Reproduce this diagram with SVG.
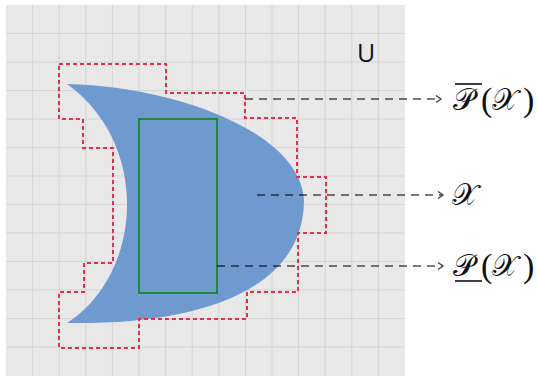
<svg xmlns="http://www.w3.org/2000/svg" width="537" height="381" viewBox="0 0 537 381">
  <style>
    .grid { stroke: #d4d4d4; stroke-width: 1; }
    .lbl { font-family: "DejaVu Serif", "Liberation Serif", serif; font-size: 30px; fill: #111; }
    .par { font-family: "Liberation Serif", serif; font-size: 34px; fill: #111; }
    .conn { stroke: #000; stroke-opacity: 0.7; stroke-width: 1.6; stroke-dasharray: 8 6; fill: none; }
  </style>
  <defs>
    <marker id="arr" markerWidth="10" markerHeight="10" refX="8" refY="5" orient="auto" markerUnits="userSpaceOnUse">
      <polyline points="3,1.5 8,5 3,8.5" fill="none" stroke="#444" stroke-width="1.4"/>
    </marker>
  </defs>
  <rect width="537" height="381" fill="#ffffff"/>
  <g id="universe">
    <rect x="6" y="5" width="399" height="371" fill="#e8e8e8"/>
    <g class="grid">
      <line x1="32.6" y1="5" x2="32.6" y2="376"/>
      <line x1="59.2" y1="5" x2="59.2" y2="376"/>
      <line x1="85.8" y1="5" x2="85.8" y2="376"/>
      <line x1="112.4" y1="5" x2="112.4" y2="376"/>
      <line x1="139" y1="5" x2="139" y2="376"/>
      <line x1="165.6" y1="5" x2="165.6" y2="376"/>
      <line x1="192.2" y1="5" x2="192.2" y2="376"/>
      <line x1="218.8" y1="5" x2="218.8" y2="376"/>
      <line x1="245.4" y1="5" x2="245.4" y2="376"/>
      <line x1="272" y1="5" x2="272" y2="376"/>
      <line x1="298.6" y1="5" x2="298.6" y2="376"/>
      <line x1="325.2" y1="5" x2="325.2" y2="376"/>
      <line x1="351.8" y1="5" x2="351.8" y2="376"/>
      <line x1="378.4" y1="5" x2="378.4" y2="376"/>
      <line x1="6" y1="33.5" x2="405" y2="33.5"/>
      <line x1="6" y1="62" x2="405" y2="62"/>
      <line x1="6" y1="90.5" x2="405" y2="90.5"/>
      <line x1="6" y1="119" x2="405" y2="119"/>
      <line x1="6" y1="147.5" x2="405" y2="147.5"/>
      <line x1="6" y1="176" x2="405" y2="176"/>
      <line x1="6" y1="204.5" x2="405" y2="204.5"/>
      <line x1="6" y1="233" x2="405" y2="233"/>
      <line x1="6" y1="261.5" x2="405" y2="261.5"/>
      <line x1="6" y1="290" x2="405" y2="290"/>
      <line x1="6" y1="318.5" x2="405" y2="318.5"/>
      <line x1="6" y1="347" x2="405" y2="347"/>
    </g>
    <text x="366" y="62" text-anchor="middle" font-family="'Open Sans', 'Liberation Sans', sans-serif" font-size="25" fill="#111">U</text>
  </g>
  <g id="set-X">
    <path d="M67,84 C170,86 300,130 304,200 C304,290 200,325 67,323 C142,275 152,145 67,84 Z" fill="#6e9ad0"/>
  </g>
  <g id="upper-approx">
    <path d="M59,64 H166 V93 H245 V118 H297 V177 H326 V233 H298 V292 H247 V319 H139 V348 H59 V292 H84 V263 H113 V148 H83 V119 H59 Z" fill="none" stroke="#e0304e" stroke-width="2" stroke-dasharray="4 3"/>
  </g>
  <g id="lower-approx">
    <rect x="139" y="119" width="78" height="174" fill="none" stroke="#1d8a3a" stroke-width="2"/>
  </g>
  <g id="connectors">
    <line class="conn" x1="245" y1="99" x2="441" y2="99" marker-end="url(#arr)"/>
    <line class="conn" x1="257" y1="195" x2="443" y2="195" marker-end="url(#arr)"/>
    <line class="conn" x1="217" y1="266" x2="443" y2="266" marker-end="url(#arr)"/>
  </g>
  <g id="label-upper">
    <text class="lbl" x="453" y="110">𝒫</text>
    <text class="par" x="481" y="111">(</text>
    <text class="lbl" x="492" y="110">𝒳</text>
    <text class="par" x="523" y="111">)</text>
    <line x1="455" y1="84" x2="482" y2="84" stroke="#111" stroke-width="1.6"/>
  </g>
  <g id="label-X">
    <text class="lbl" x="452" y="205">𝒳</text>
  </g>
  <g id="label-lower">
    <text class="lbl" x="453" y="276">𝒫</text>
    <text class="par" x="481" y="277">(</text>
    <text class="lbl" x="492" y="276">𝒳</text>
    <text class="par" x="523" y="277">)</text>
    <line x1="455" y1="281" x2="482" y2="281" stroke="#111" stroke-width="1.6"/>
  </g>
</svg>
